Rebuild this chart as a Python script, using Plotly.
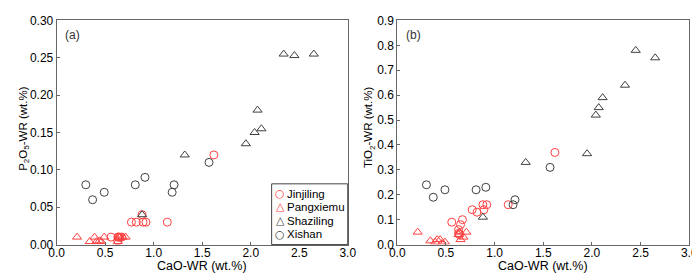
import plotly.graph_objects as go
from plotly.subplots import make_subplots

# Jinjiling (red circles)
jin_cao = [1.62, 1.14, 0.77, 0.82, 0.88, 0.92, 0.89, 0.56, 0.67, 0.65, 0.63, 0.63, 0.64]
jin_p2o5 = [0.12, 0.03, 0.03, 0.03, 0.04, 0.03, 0.03, 0.01, 0.01, 0.01, 0.005, 0.01, 0.01]
jin_tio2 = [0.37, 0.16, 0.14, 0.13, 0.16, 0.16, 0.14, 0.09, 0.10, 0.08, 0.06, 0.045, 0.04]

# Pangxiemu (red triangles)
pan_cao = [0.21, 0.34, 0.39, 0.41, 0.44, 0.46, 0.49, 0.63, 0.64, 0.65, 0.68, 0.71]
pan_p2o5 = [0.01, 0.004, 0.01, 0.004, 0.005, 0.004, 0.01, 0.004, 0.01, 0.01, 0.01, 0.01]
pan_tio2 = [0.05, 0.015, 0.01, 0.02, 0.02, 0.004, 0.01, 0.04, 0.05, 0.02, 0.03, 0.05]

# Shaziling (black triangles)
sha_cao = [0.88, 1.32, 1.95, 2.04, 2.07, 2.11, 2.34, 2.45, 2.65]
sha_p2o5 = [0.04, 0.12, 0.135, 0.15, 0.18, 0.155, 0.255, 0.253, 0.255]
sha_tio2 = [0.11, 0.33, 0.365, 0.52, 0.55, 0.59, 0.64, 0.78, 0.75]

# Xishan (grey circles)
xis_cao = [0.30, 0.37, 0.49, 0.81, 0.91, 1.19, 1.21, 1.57]
xis_p2o5 = [0.08, 0.06, 0.07, 0.08, 0.09, 0.07, 0.08, 0.11]
xis_tio2 = [0.24, 0.19, 0.22, 0.22, 0.23, 0.16, 0.18, 0.31]

RED = "#ff4040"
GREY = "#404040"
FONT = "Liberation Sans, Arial, sans-serif"

fig = make_subplots(rows=1, cols=2)

series = [
    ("Jinjiling", jin_cao, jin_p2o5, jin_tio2, "circle-open", RED, "○"),
    ("Pangxiemu", pan_cao, pan_p2o5, pan_tio2, "triangle-up-open", RED, "△"),
    ("Shaziling", sha_cao, sha_p2o5, sha_tio2, "triangle-up-open", GREY, "△"),
    ("Xishan", xis_cao, xis_p2o5, xis_tio2, "circle-open", GREY, "○"),
]
for name, x, yp, yt, sym, col, _g in series:
    mk = dict(symbol=sym, size=8, color=col, line=dict(width=1, color=col))
    fig.add_trace(go.Scatter(x=x, y=yp, mode="markers", name=name, marker=mk,
                             showlegend=False), row=1, col=1)
    fig.add_trace(go.Scatter(x=x, y=yt, mode="markers", name=name, marker=mk,
                             showlegend=False), row=1, col=2)

axis_common = dict(showline=True, mirror=True, linecolor="#666666", linewidth=1,
                   ticks="inside", ticklen=3, tickcolor="#666666", showgrid=False,
                   zeroline=False, ticklabeloverflow="allow",
                   tickfont=dict(size=12, color="black", family=FONT))

fig.update_xaxes(range=[0, 3.0], dtick=0.5, tickformat=".1f", ticklabelstandoff=-3,
                 **axis_common)
fig.update_xaxes(domain=[0.0596, 0.4857], row=1, col=1)
fig.update_xaxes(domain=[0.5582, 0.9857], row=1, col=2)
fig.update_yaxes(**axis_common)
fig.update_yaxes(range=[0, 0.30001], dtick=0.05, tickformat=".2f", row=1, col=1)
fig.update_yaxes(range=[0, 0.90001], dtick=0.1, tickformat=".1f", row=1, col=2)
fig.update_yaxes(domain=[0.1136, 0.979])

xtfont = dict(size=12.5, color="black", family=FONT)
ytfont = dict(size=11.5, color="black", family=FONT)
# axis titles
for xref in ("x domain", "x2 domain"):
    fig.add_annotation(text="CaO-WR (wt.%)", x=0.5, xref=xref, y=0.03, yref="paper",
                       xanchor="center", yanchor="middle", showarrow=False, font=xtfont,
                       borderpad=0)
fig.add_annotation(text="P<sub>2</sub>O<sub>5</sub>-WR (wt.%)", x=8 / 700, xref="paper",
                   y=0.52, yref="y domain", textangle=-90, xanchor="center",
                   yanchor="middle", showarrow=False, font=ytfont)
fig.add_annotation(text="TiO<sub>2</sub>-WR (wt.%)", x=362 / 700, xref="paper",
                   y=0.525, yref="y2 domain", textangle=-90, xanchor="center",
                   yanchor="middle", showarrow=False, font=ytfont)

# panel labels
fig.add_annotation(text="(a)", x=0.022, y=0.975, xref="x domain", yref="y domain",
                   xanchor="left", yanchor="top", showarrow=False,
                   font=dict(size=12, color="#333333", family=FONT))
fig.add_annotation(text="(b)", x=0.022, y=0.975, xref="x2 domain", yref="y2 domain",
                   xanchor="left", yanchor="top", showarrow=False,
                   font=dict(size=12, color="#333333", family=FONT))

# custom legend box in panel (a)
fig.add_shape(type="rect", xref="x domain", yref="y domain", x0=0.7385, x1=1.0,
              y0=0.0, y1=0.271, line=dict(color="#444444", width=1), fillcolor="white",
              layer="above")
leg_y = [0.227, 0.168, 0.107, 0.047]
for (name, _x, _yp, _yt, _s, col, glyph), ly in zip(series, leg_y):
    fig.add_annotation(text=glyph, x=0.768, y=ly, xref="x domain", yref="y domain",
                       xanchor="center", yanchor="middle", showarrow=False,
                       font=dict(size=11, color=col, family="DejaVu Sans"))
    fig.add_annotation(text=name, x=0.786, y=ly, xref="x domain", yref="y domain",
                       xanchor="left", yanchor="middle", showarrow=False,
                       font=dict(size=11.5, color="black", family=FONT))

fig.update_layout(
    width=700, height=273,
    margin=dict(l=0, r=0, t=0, b=0),
    paper_bgcolor="white", plot_bgcolor="white",
    font=dict(family=FONT, size=12, color="black"),
    showlegend=False,
)

fig.write_html("out.html")
